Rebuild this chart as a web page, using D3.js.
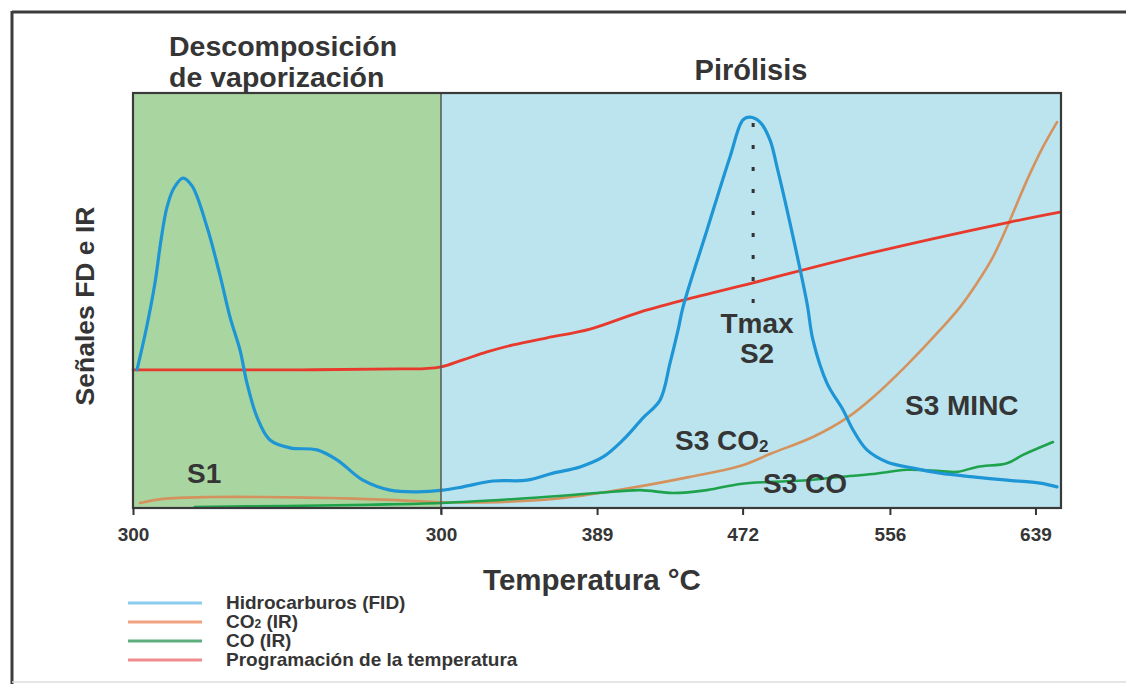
<!DOCTYPE html>
<html lang="es">
<head>
<meta charset="utf-8">
<title>Pirólisis Rock-Eval</title>
<script src="https://cdn.jsdelivr.net/npm/d3@7"></script>
<style>
  html, body { margin: 0; padding: 0; background: #ffffff; }
  svg { display: block; }
  text { font-family: "Liberation Sans", Arial, Helvetica, sans-serif; font-weight: bold; fill: #353535; }
</style>
</head>
<body>
<svg id="chart" width="1126" height="684"></svg>
<script>
// --- Stage 1: isothermal vaporization at 300 °C (time in minutes) ---
const vapMinutes = [0, 3];
const fidVap = [
  [0.039, 33.3], [0.127, 42.9], [0.214, 54.2], [0.273, 64.6], [0.331, 72.5],
  [0.399, 77.1], [0.487, 79.5], [0.575, 77.6], [0.721, 67.7], [0.847, 56.1],
  [0.945, 46.0], [1.042, 38.1], [1.110, 30.1], [1.208, 21.9], [1.334, 16.4],
  [1.529, 14.5], [1.792, 14.0], [1.987, 11.6], [2.240, 6.7], [2.503, 4.3],
  [2.766, 3.9]
];
const co2Vap = [[0.068, 1.2], [0.29, 2.2], [0.78, 2.65], [1.27, 2.65], [1.92, 2.4], [2.57, 1.9]];
const coVap = [[0.60, 0.24], [1.5, 0.5], [2.3, 0.8]];
const tempVap = [[0.0, 33.3], [1.63, 33.3], [2.6, 33.5], [2.84, 33.6]];

// --- Stage 2: pyrolysis ramp (temperature in °C) ---
const pyrTemps = [300, 653];
const fidPyr = [
  [301.1, 4.3], [312.5, 5.1], [329.7, 6.5], [349.0, 6.7], [363.9, 8.4], [379.3, 9.9],
  [392.4, 12.3], [403.8, 16.4], [415.2, 21.7], [424.9, 26.0], [430.6, 34.9], [435.2, 42.9],
  [438.0, 48.4], [451.7, 67.0], [464.8, 84.6], [472.2, 93.5], [476.2, 94.2], [481.9, 93.0],
  [487.6, 88.7], [491.6, 82.2], [499.0, 68.7], [508.7, 49.4], [512.1, 40.5], [520.1, 30.1],
  [529.3, 23.6], [535.0, 18.8], [542.9, 14.0], [554.3, 11.1], [569.2, 9.6], [584.6, 8.4],
  [603.4, 7.5], [622.8, 6.7], [641.6, 6.0], [651.3, 5.1]
];
const co2Pyr = [
  [300, 1.4], [331.9, 1.4], [369.6, 2.4], [407.8, 4.8], [442.0, 7.5], [470.5, 10.1],
  [489.3, 13.3], [512.1, 17.1], [531.5, 21.7], [546.4, 26.7], [565.8, 34.5], [584.6, 42.9],
  [596.0, 48.4], [605.7, 54.2], [614.8, 60.5], [624.5, 69.4], [634.2, 79.0], [643.3, 87.0],
  [651.3, 93.0]
];
const coPyr = [
  [300, 1.2], [350.8, 2.4], [389.0, 3.6], [413.5, 4.3], [432.3, 3.6], [451.7, 4.3],
  [470.5, 5.8], [489.3, 6.3], [508.7, 6.7], [527.5, 7.5], [546.4, 8.2], [565.8, 9.2],
  [584.6, 8.9], [594.3, 8.7], [605.7, 9.9], [622.8, 10.8], [631.9, 12.8], [649.0, 15.9]
];
const tempPyr = [
  [300, 34.0], [312.5, 35.7], [326.2, 37.6], [341.1, 39.3], [360.5, 41.0], [385.0, 43.1],
  [413.5, 47.2], [447.7, 51.1], [477.4, 54.2], [544.7, 61.4], [624.5, 68.9], [653, 71.3]
];

// Axis ticks
const vapTickValues = [0];
const vapTickLabels = ["300"];
const pyrTickValues = [300, 389, 472, 556, 639];
const pyrTickLabels = ["300", "389", "472", "556", "639"];

// Tmax marker (°C) and its dotted extent in signal units
const tmax = 478;
const tmaxSpan = [92.8, 48.9];

// Legend
const legendNames = ["Hidrocarburos (FID)", "CO2 (IR)", "CO (IR)", "Programación de la temperatura"];
const legendColors = ["#8ccdee", "#f2a27e", "#5fae80", "#ef8c8c"];

const seriesColors = { fid: "#1e95d4", co2: "#d4935e", co: "#1ea24c", temp: "#e8392d" };

// ---------------------------------------------------------------
const svg = d3.select("#chart");
const plot = { left: 133, right: 1061, top: 93, bottom: 508, split: 441 };

const xVap = d3.scaleLinear().domain(vapMinutes).range([plot.left, plot.split]);
const xPyr = d3.scaleLinear().domain(pyrTemps).range([plot.split, plot.right - 1]);
const y = d3.scaleLinear().domain([0, 100]).range([plot.bottom, plot.top]);

// Page frame
svg.append("line").attr("x1", 12).attr("y1", 12).attr("x2", 1126).attr("y2", 12)
  .attr("stroke", "#3c3c3c").attr("stroke-width", 3);
svg.append("line").attr("x1", 12).attr("y1", 11).attr("x2", 12).attr("y2", 684)
  .attr("stroke", "#3c3c3c").attr("stroke-width", 3);
svg.append("line").attr("x1", 12).attr("y1", 682).attr("x2", 1126).attr("y2", 682)
  .attr("stroke", "#dddddd").attr("stroke-width", 1.5);

// Stage backgrounds
svg.append("rect").attr("x", plot.left).attr("y", plot.top)
  .attr("width", plot.split - plot.left).attr("height", plot.bottom - plot.top)
  .attr("fill", "#a9d5a1");
svg.append("rect").attr("x", plot.split).attr("y", plot.top)
  .attr("width", plot.right - plot.split).attr("height", plot.bottom - plot.top)
  .attr("fill", "#bce4ee");

// Curves: vaporization points joined to pyrolysis points
const line = d3.line().x(d => d[0]).y(d => d[1]).curve(d3.curveCatmullRom.alpha(0.5));
function joined(vap, pyr) {
  return vap.map(d => [xVap(d[0]), y(d[1])]).concat(pyr.map(d => [xPyr(d[0]), y(d[1])]));
}
const curves = [
  { pts: joined(co2Vap, co2Pyr), color: seriesColors.co2, w: 2.6 },
  { pts: joined(coVap, coPyr), color: seriesColors.co, w: 2.6 },
  { pts: joined(tempVap, tempPyr), color: seriesColors.temp, w: 2.8 },
  { pts: joined(fidVap, fidPyr), color: seriesColors.fid, w: 3.2 }
];
svg.append("g").selectAll("path").data(curves).join("path")
  .attr("d", d => line(d.pts))
  .attr("fill", "none")
  .attr("stroke", d => d.color)
  .attr("stroke-width", d => d.w)
  .attr("stroke-linejoin", "round")
  .attr("stroke-linecap", "round");

// Stage divider and plot frame
svg.append("line").attr("x1", plot.split).attr("x2", plot.split)
  .attr("y1", plot.top).attr("y2", plot.bottom + 6)
  .attr("stroke", "#5d5d5d").attr("stroke-width", 1.6);
svg.append("rect").attr("x", plot.left).attr("y", plot.top)
  .attr("width", plot.right - plot.left).attr("height", plot.bottom - plot.top)
  .attr("fill", "none").attr("stroke", "#3a3a3a").attr("stroke-width", 2.2);

// Tmax dotted marker
svg.append("line")
  .attr("x1", xPyr(tmax)).attr("x2", xPyr(tmax))
  .attr("y1", y(tmaxSpan[0])).attr("y2", y(tmaxSpan[1]))
  .attr("stroke", "#333").attr("stroke-width", 3)
  .attr("stroke-dasharray", "4 18");

// Bottom axes (one per stage)
function styleAxis(g) {
  g.select(".domain").remove();
  g.selectAll(".tick line").attr("stroke", "#333").attr("stroke-width", 2);
  g.selectAll(".tick text").attr("font-size", 19).attr("dy", 0).attr("y", 33)
    .attr("fill", "#353535").attr("font-family", "Liberation Sans, Arial, sans-serif")
    .attr("font-weight", "bold");
}
svg.append("g").attr("transform", `translate(0,${plot.bottom})`)
  .call(d3.axisBottom(xVap).tickValues(vapTickValues).tickSize(7)
    .tickFormat((d, i) => vapTickLabels[i]))
  .call(styleAxis);
svg.append("g").attr("transform", `translate(0,${plot.bottom})`)
  .call(d3.axisBottom(xPyr).tickValues(pyrTickValues).tickSize(7)
    .tickFormat((d, i) => pyrTickLabels[i]))
  .call(styleAxis);

// Titles
svg.append("text").attr("x", 169).attr("y", 56).attr("font-size", 28.5).text("Descomposición");
svg.append("text").attr("x", 169).attr("y", 87).attr("font-size", 28.5).text("de vaporización");
svg.append("text").attr("x", 751).attr("y", 80).attr("font-size", 29)
  .attr("text-anchor", "middle").text("Pirólisis");
svg.append("text").attr("transform", "translate(94,306) rotate(-90)")
  .attr("text-anchor", "middle").attr("font-size", 26.5).text("Señales FD e IR");
svg.append("text").attr("x", 592).attr("y", 590).attr("font-size", 29.5)
  .attr("text-anchor", "middle").text("Temperatura °C");

// Peak annotations
const ann = svg.append("g").attr("font-size", 28);
ann.append("text").attr("x", 187).attr("y", 483).text("S1");
ann.append("text").attr("x", 757).attr("y", 333).attr("text-anchor", "middle").text("Tmax");
ann.append("text").attr("x", 757).attr("y", 363).attr("text-anchor", "middle").text("S2");
const s3co2 = ann.append("text").attr("x", 675).attr("y", 450);
s3co2.append("tspan").text("S3 CO");
s3co2.append("tspan").attr("font-size", 17).attr("dy", 2).text("2");
ann.append("text").attr("x", 905).attr("y", 415).text("S3 MINC");
ann.append("text").attr("x", 763).attr("y", 493).text("S3 CO");

// Legend
const leg = svg.append("g");
const rows = leg.selectAll("g").data(legendNames).join("g")
  .attr("transform", (d, i) => `translate(0,${603 + i * 19})`);
rows.append("line").attr("x1", 128).attr("x2", 202).attr("y1", 0).attr("y2", 0)
  .attr("stroke", (d, i) => legendColors[i]).attr("stroke-width", 3);
rows.append("text").attr("x", 226).attr("y", 5.5).attr("font-size", 19)
  .each(function (d) {
    const t = d3.select(this);
    if (d === "CO2 (IR)") {
      t.append("tspan").text("CO");
      t.append("tspan").attr("font-size", 12).text("2");
      t.append("tspan").text(" (IR)");
    } else {
      t.text(d);
    }
  });
</script>
</body>
</html>
